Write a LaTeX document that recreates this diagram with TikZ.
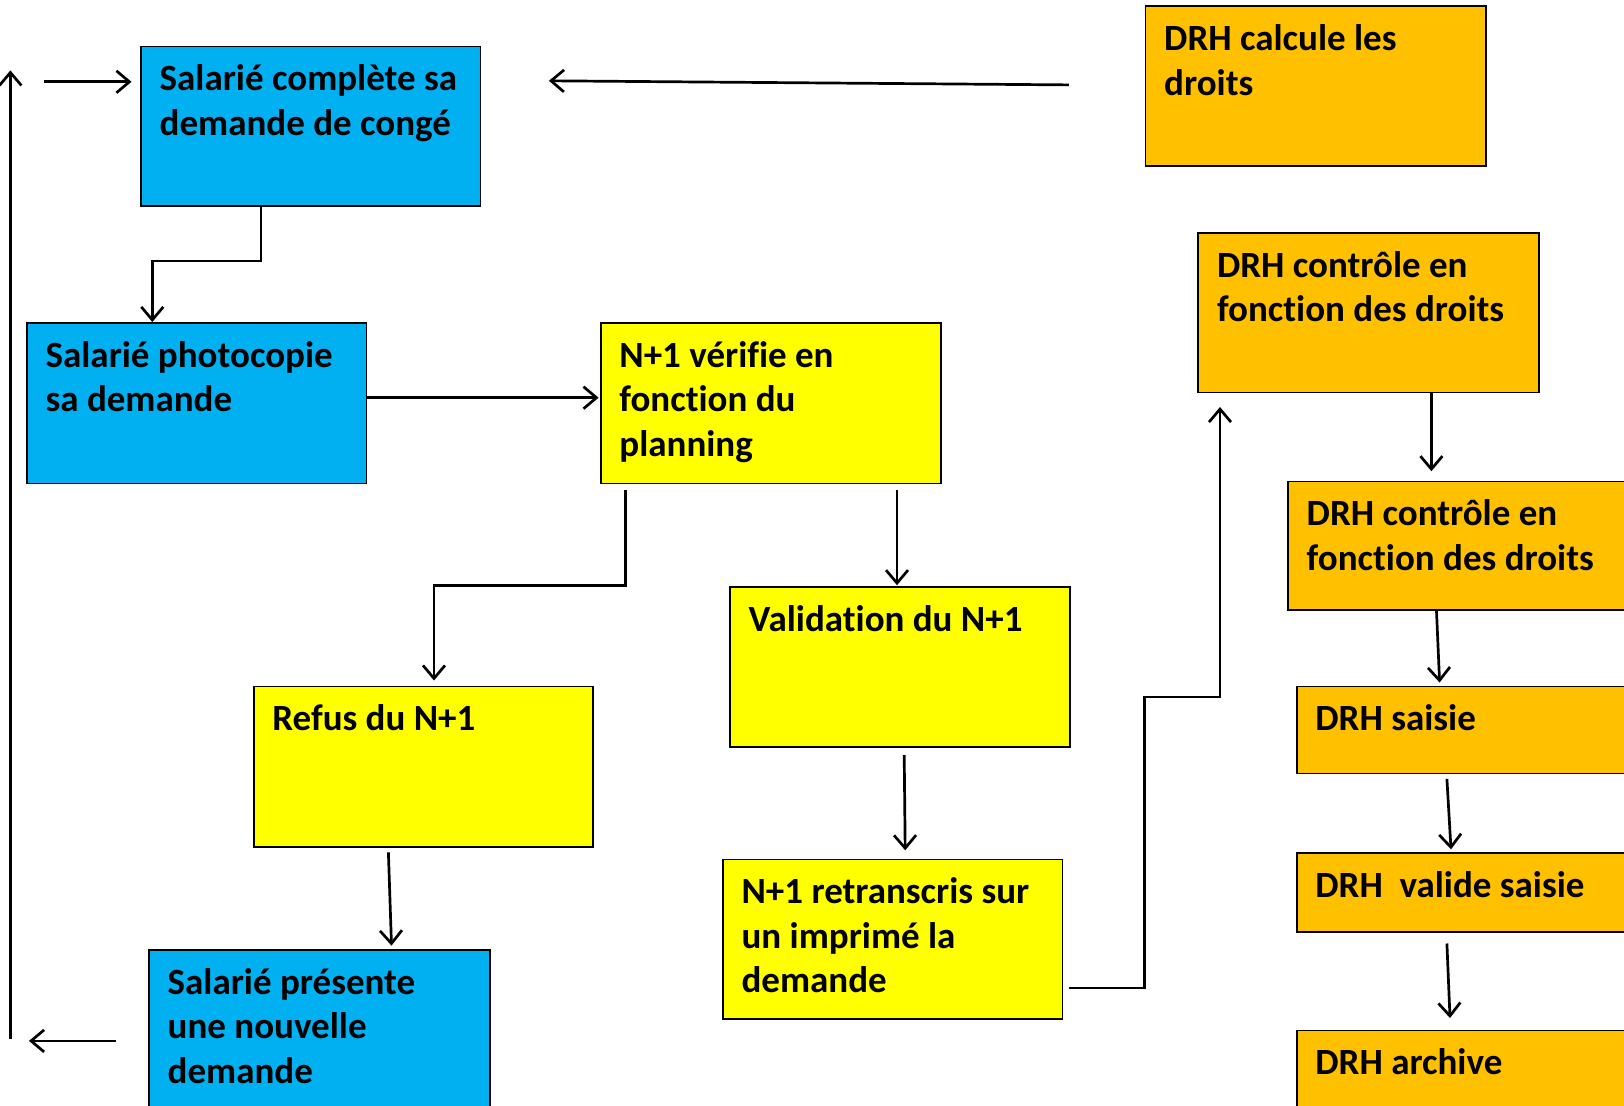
\documentclass[tikz,border=0pt]{standalone}
\usepackage{fontspec}
\setmainfont{Carlito}[Ligatures={NoCommon}]
\usetikzlibrary{arrows.meta,calc}
\definecolor{bleuC}{HTML}{00B0F0}
\definecolor{jauneC}{HTML}{FFFF00}
\definecolor{orangeC}{HTML}{FFC000}
\tikzset{
  box/.style={draw=black, line width=1.8pt, rectangle, inner sep=0pt, anchor=north west},
  txt/.style={anchor=north west, inner sep=0pt, align=left, xshift=19.5pt, yshift=-14pt,
    font=\bfseries\fontsize{37}{44.5}\selectfont},
  arr/.style={line width=2.7pt, -{Straight Barb[length=13pt,width=22pt]}},
}
\begin{document}
\begin{tikzpicture}[x=1pt,y=-1pt]
\clip (0,0) rectangle (1624,1105);
\fill[white] (0,0) rectangle (1624,1105);
% boxes
\node[box, fill=bleuC, minimum width=339.5pt, minimum height=159.4pt,
  label={[txt]north west:\strut Salarié complète sa\\demande de congé}] (b1) at (140,45.6) {};
\node[box, fill=bleuC, minimum width=339.7pt, minimum height=160.6pt,
  label={[txt]north west:\strut Salarié photocopie\\sa demande}] (b2) at (25.9,322) {};
\node[box, fill=jauneC, minimum width=340.7pt, minimum height=160.6pt,
  label={[txt]north west:\strut N+1 vérifie en\\fonction du\\planning}] (b3) at (599.7,322) {};
\node[box, fill=jauneC, minimum width=339.7pt, minimum height=160.6pt,
  label={[txt]north west:\strut Refus du N+1}] (b4) at (252.7,685.6) {};
\node[box, fill=jauneC, minimum width=339.8pt, minimum height=159.7pt,
  label={[txt]north west:\strut Validation du N+1}] (b5) at (729,586) {};
\node[box, fill=jauneC, minimum width=339.7pt, minimum height=159.4pt,
  label={[txt]north west:\strut N+1 retranscris sur\\un imprimé la\\demande}] (b6) at (721.9,858.6) {};
\node[box, fill=bleuC, minimum width=340.8pt, minimum height=200pt,
  label={[txt]north west:\strut Salarié présente\\une nouvelle\\demande}] (b7) at (148,948.7) {};
\node[box, fill=orangeC, minimum width=340.5pt, minimum height=159.5pt,
  label={[txt]north west:\strut DRH calcule les\\droits}] (b8) at (1144.5,5.2) {};
\node[box, fill=orangeC, minimum width=340.7pt, minimum height=159.5pt,
  label={[txt]north west:\strut DRH contrôle en\\fonction des droits}] (b9) at (1197.3,232) {};
\node[box, fill=orangeC, minimum width=345pt, minimum height=128.4pt,
  label={[txt]north west:\strut DRH contrôle en\\fonction des droits}] (b10) at (1287,480.6) {};
\node[box, fill=orangeC, minimum width=345pt, minimum height=87pt,
  label={[txt]north west:\strut DRH saisie}] (b11) at (1295.7,685.6) {};
\node[box, fill=orangeC, minimum width=345pt, minimum height=78.6pt,
  label={[txt]north west:\strut DRH\ \ valide saisie}] (b12) at (1295.7,852.4) {};
\node[box, fill=orangeC, minimum width=345pt, minimum height=120pt,
  label={[txt]north west:\strut DRH archive}] (b13) at (1295.7,1029.5) {};
% free connector ends
\coordinate (l0) at (10.4,1038.8);
\coordinate (l1) at (10.4,70.4);
\coordinate (e0) at (43.5,81.8);
\coordinate (e1) at (131.5,81.8);
\coordinate (d0) at (1068.8,84.9);
\coordinate (d1) at (548.9,80.8);
\coordinate (n0) at (116,1040.9);
\coordinate (n1) at (29,1040.9);
% connectors
\draw[arr] (b1.south west -| 261,0) -- (261,261) -| (b2.north west -| 152.3,0);
\draw[arr] (b2.north east |- 0,397.7) -- (598.6,397.7);
\draw[arr] (625.6,490) -- (625.6,585.2) -| (434,680.5);
\draw[arr] (897,490) -- (897,585.2);
\draw[arr] (388.4,852.4) -- (391.5,945.6);
\draw[arr] (n0) -- (n1);
\draw[arr] (l0) -- (l1);
\draw[arr] (e0) -- (e1);
\draw[arr] (d0) -- (d1);
\draw[arr] (904.2,755) -- (905.2,850.3);
\draw[arr] (1068.8,988) -- (1144.5,988) -- (1144.5,697) -- (1220,697) -- (1220,407);
\draw[arr] (b9.south west -| 1431.4,0) -- (1431.4,471.2);
\draw[arr] (1436.5,611) -- (1439.6,682.5);
\draw[arr] (1446.9,778.9) -- (1451,849.3);
\draw[arr] (1446.9,943.5) -- (1450,1018);
\end{tikzpicture}
\end{document}
